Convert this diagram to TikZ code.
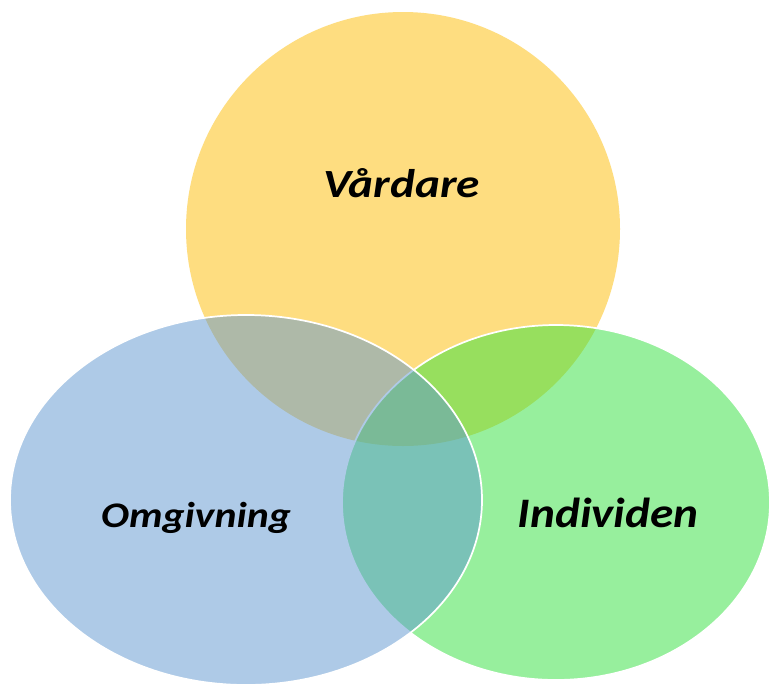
\documentclass[tikz,border=0pt]{standalone}
\usepackage{fontspec}
\usepackage{graphicx}
\setmainfont{Carlito}
\definecolor{cyel}{RGB}{254,221,128}
\definecolor{cblue}{RGB}{95,151,209}
\definecolor{cgreen}{RGB}{49,225,61}
\tikzset{
  blob/.style={draw=white, line width=1.3pt, fill opacity=0.5, draw opacity=1},
  lbl/.style={anchor=base, inner sep=0pt}
}
\begin{document}
\begin{tikzpicture}[x=0.75pt, y=-0.75pt]
\useasboundingbox (0,0) rectangle (770,686);
\fill[white] (0,0) rectangle (770,686);
\path[fill=cyel] (403,229) ellipse [x radius=217, y radius=217];
\path[blob, fill=cgreen] (556,502.5) ellipse [x radius=214, y radius=177.5];
\path[blob, fill=cblue] (246,500) ellipse [x radius=236, y radius=185];
\node[lbl] (v) at (401.5,197) {\scalebox{1.18}[1]{\fontsize{30}{36}\selectfont\bfseries\itshape Vårdare}};
\node[lbl] (o) at (196,527) {\scalebox{1.16}[1]{\fontsize{27}{32}\selectfont\bfseries\itshape Omgivning}};
\node[lbl] (i) at (608,527) {\scalebox{1.125}[1]{\fontsize{31.5}{38}\selectfont\bfseries\itshape Individen}};
\end{tikzpicture}
\end{document}
